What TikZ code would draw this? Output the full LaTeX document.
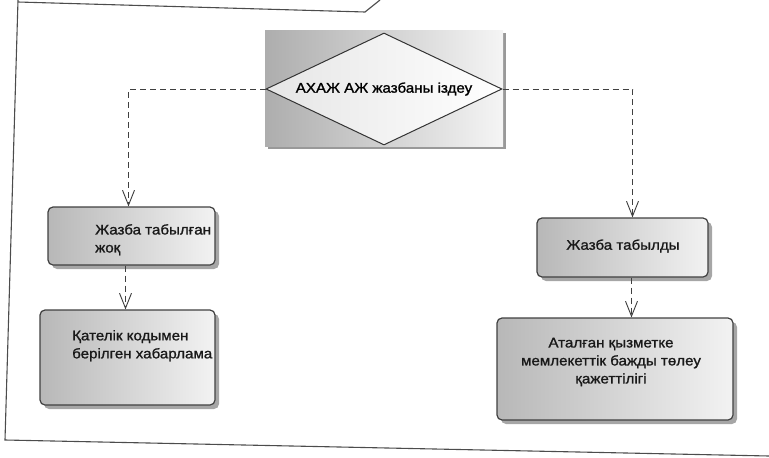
\documentclass[tikz,border=0pt]{standalone}
\usepackage{fontspec}
\setmainfont{Liberation Sans}[FakeStretch=1.08,FakeBold=1.2]
\usetikzlibrary{shapes.geometric,arrows.meta,shadows}
\begin{document}
\begin{tikzpicture}[x=1pt,y=-1pt,
  font=\fontsize{14}{18}\selectfont,
  framel/.style={draw=black!70, line width=1.1pt},
  boxshape/.style={draw=black!75, line width=1.2pt, rounded corners=5pt,
    left color=black!28, right color=black!5, inner sep=0pt,
    copy shadow={shadow xshift=4pt, shadow yshift=-4pt, fill=black!35, draw=none}},
  dbgshape/.style={draw=none, left color=black!32, right color=black!4, inner sep=0pt,
    copy shadow={shadow xshift=3pt, shadow yshift=-3pt, fill=black!40, draw=none}},
  dshape/.style={draw=black!80, line width=1pt, diamond, aspect=2.1, inner sep=0pt,
    left color=black!10, right color=white},
  lbl/.style={inner sep=0pt, text=black!90},
  conn/.style={draw=black!75, line width=0.9pt, dash pattern=on 6pt off 4pt,
    -{Straight Barb[length=15pt,width=12pt,line width=0.9pt]}}
]
\useasboundingbox (0,0) rectangle (769,458);
% frame
\draw[framel] (18,0) -- (5,440) -- (769,456);
\draw[framel] (18,2) -- (365,12) -- (380,0);
% decision
\node[dbgshape, minimum width=238, minimum height=116] (dbg) at (384,88) {};
\node[dshape, minimum width=236, minimum height=112] (d) at (384,89) {АХАЖ АЖ жазбаны іздеу};
% boxes
\node[boxshape, minimum width=167, minimum height=58] (b1) at (131.5,236) {};
\node[lbl, anchor=north west, align=left] (t1) at (95,224) {Жазба табылған\\жоқ};
\node[boxshape, minimum width=175, minimum height=95] (b3) at (127.5,357.5) {};
\node[lbl, anchor=north west, align=left] (t3) at (72,330) {Қателік кодымен\\берілген хабарлама};
\node[boxshape, minimum width=171, minimum height=59] (b2) at (622.5,247.5) {};
\node[lbl] (t2) at (623,246) {Жазба табылды};
\node[boxshape, minimum width=236, minimum height=102] (b4) at (615,369) {};
\node[lbl, align=center] (t4) at (611,362) {Аталған қызметке\\мемлекеттік бажды төлеу\\қажеттілігі};
% connectors
\draw[conn] (d.west) -| ([xshift=-3]b1.north);
\draw[conn] (d.east) -| ([xshift=10]b2.north);
\draw[conn] ([xshift=-6]b1.south) -- ([xshift=-6]b1.south |- b3.north);
\draw[conn] ([xshift=9]b2.south) -- ([xshift=9]b2.south |- b4.north);
\end{tikzpicture}
\end{document}
